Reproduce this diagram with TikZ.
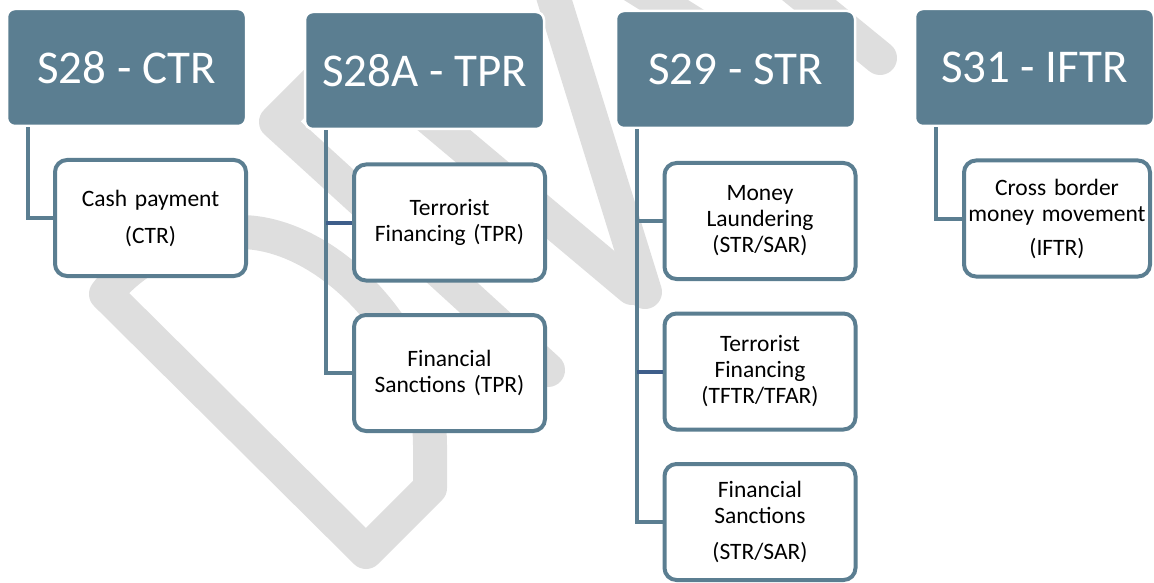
\documentclass[tikz,border=0pt]{standalone}
\usepackage{fontspec}
\setmainfont{Carlito}
\definecolor{hdr}{RGB}{91,126,145}
\definecolor{dk}{RGB}{62,94,138}
\definecolor{wm}{RGB}{222,222,222}
\tikzset{
  hdrbox/.style={rectangle, rounded corners=8pt, fill=hdr, draw=white, line width=2.5pt,
    minimum width=239pt, minimum height=117pt, inner sep=0pt, text=white,
    font=\fontsize{47}{56}\selectfont},
  kidbox/.style={rectangle, rounded corners=12pt, fill=white, draw=hdr, line width=4pt,
    minimum width=191pt, minimum height=116pt, inner sep=0pt, text width=185pt,
    align=center, font=\fontsize{23.5}{26}\selectfont},
  conn/.style={draw=hdr, line width=4pt},
  connd/.style={draw=dk, line width=4pt},
  wmark/.style={draw=wm, line width=34pt, line join=round, line cap=round}
}
\begin{document}
\begin{tikzpicture}[x=1pt,y=-1pt]
\useasboundingbox (0,0) rectangle (1154,583);
% watermark
\begin{scope}
\clip (0,0) rectangle (1154,583);
\draw[wmark] (106,294) -- (366,552) -- (430,488) -- (430,445)
  .. controls (430,340) and (330,232) .. (240,232)
  .. controls (180,232) and (130,262) .. (106,294) -- cycle;
\draw[wmark] (548,370) -- (276,122) -- (360,38);
\draw[wmark] (420,110) -- (632,288);
\draw[wmark] (645,292) -- (545,-30);
\draw[wmark] (560,-60) -- (720,40);
\draw[wmark] (760,-40) -- (880,58);
\end{scope}
% headers
\node[hdrbox] (h1) at (126.5,67.5) {S28 - CTR};
\node[hdrbox] (h2) at (424.5,70.5) {S28A - TPR};
\node[hdrbox] (h3) at (735.5,69.5) {S29 - STR};
\node[hdrbox] (h4) at (1034.5,67.5) {S31 - IFTR};
% stems
\coordinate (s1) at ([xshift=22pt]h1.south west);
\coordinate (s2) at ([xshift=22pt]h2.south west);
\coordinate (s3) at ([xshift=22pt]h3.south west);
\coordinate (s4) at ([xshift=22.5pt]h4.south west);
% children
\node[kidbox] (c1) at (150.5,218) {Cash payment\\[11pt](CTR)};
\node[kidbox] (c2) at (449.5,222.5) {Terrorist\\Financing (TPR)};
\node[kidbox] (c3) at (449.5,373) {Financial\\Sanctions (TPR)};
\node[kidbox] (c4) at (760,221) {Money\\Laundering\\(STR/SAR)};
\node[kidbox] (c5) at (760,371.5) {Terrorist\\Financing\\(TFTR/TFAR)};
\node[kidbox] (c6) at (760,522) {Financial\\Sanctions\\[10pt](STR/SAR)};
\node[kidbox, minimum width=186pt] (c7) at (1057,218.5) {Cross border\\money movement\\[8pt](IFTR)};
% connectors
\draw[conn] (s1) |- (c1.west);
\draw[conn] (s2) |- (c3.west);
\draw[connd] (c2.west) -- (c2.west -| s2);
\draw[conn] (s3) |- (c6.west);
\draw[conn] (c4.west) -- (c4.west -| s3);
\draw[connd] (c5.west) -- (c5.west -| s3);
\draw[conn] (s4) |- (c7.west);
\end{tikzpicture}
\end{document}
